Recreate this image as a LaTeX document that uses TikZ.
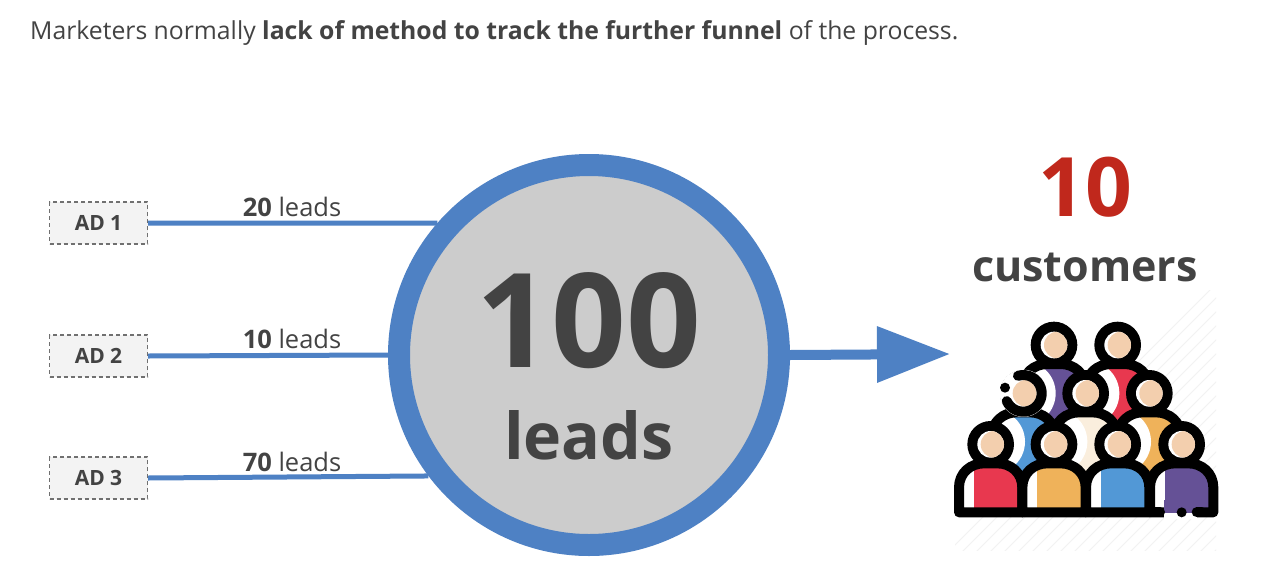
\documentclass[tikz,border=0pt]{standalone}
\usepackage{fontspec}
\setmainfont{Open Sans}
\usetikzlibrary{arrows.meta}
\definecolor{ink}{HTML}{434343}
\definecolor{ringblue}{HTML}{4E81C4}
\definecolor{hubgrey}{HTML}{CCCCCC}
\definecolor{adfill}{HTML}{F3F3F3}
\definecolor{adedge}{HTML}{707070}
\definecolor{redtxt}{HTML}{C0281C}
\definecolor{skin}{HTML}{F3CFAE}
\definecolor{pred}{HTML}{E8384F}
\definecolor{pyel}{HTML}{EFB25A}
\definecolor{pblu}{HTML}{5298D6}
\definecolor{ppur}{HTML}{655196}
\definecolor{pcre}{HTML}{FAEEDD}
\tikzset{
  adbox/.style={draw=adedge,fill=adfill,dash pattern=on 4pt off 3pt,line width=1.2pt,minimum width=98pt,minimum height=42pt,inner sep=0pt,text=ink,font=\fontsize{21}{24}\selectfont\bfseries},
  leadlabel/.style={text=ink,inner sep=0pt,font=\fontsize{25.5}{28}\selectfont},
  hubnode/.style={circle,draw=ringblue,fill=hubgrey,line width=22pt,minimum size=380pt,inner sep=0pt},
  feed/.style={draw=ringblue,line width=5pt},
  plain/.style={inner sep=0pt,text=ink}
}
% head: x, y
\newcommand{\headat}[2]{%
  \fill[black] (#1,#2) circle[radius=70];
  \fill[white] (#1,#2) circle[radius=40];
  \begin{scope}\clip (#1,#2) circle[radius=40];
    \fill[skin] (#1+10,#2) circle[radius=40];
  \end{scope}}
% body outline path: x, y, depth
\newcommand{\bodypath}[3]{(#1-95,#2+#3) -- (#1-95,#2+130) .. controls (#1-95,#2+85) and (#1-60,#2+57) .. (#1-20,#2+57) -- (#1+20,#2+57) .. controls (#1+60,#2+57) and (#1+95,#2+85) .. (#1+95,#2+130) -- (#1+95,#2+#3) -- cycle}
% front-row person
\newcommand{\frontperson}[3]{%
  \fill[white] \bodypath{#1}{#2}{204};
  \begin{scope}\clip \bodypath{#1}{#2}{204};
    \fill[#3] (#1-50,#2+60) rectangle (#1+95,#2+204);
  \end{scope}
  \draw[black,line width=10pt,line join=round] \bodypath{#1}{#2}{204};
  \headat{#1}{#2}}
% back-row person with crescent
\newcommand{\backperson}[3]{%
  \fill[white] \bodypath{#1}{#2}{310};
  \begin{scope}\clip \bodypath{#1}{#2}{310};
    \fill[#3] (#1-95,#2+50) rectangle (#1+95,#2+310);
    \fill[white] (#1-92,#2+145) circle[radius=97];
  \end{scope}
  \draw[black,line width=10pt,line join=round] \bodypath{#1}{#2}{310};
  \headat{#1}{#2}}
\begin{document}
\begin{tikzpicture}[x=1pt,y=-1pt]
\useasboundingbox (0,0) rectangle (1280,576);
\fill[white] (0,0) rectangle (1280,576);
% heading
\node[plain,anchor=west,font=\fontsize{24.75}{30}\selectfont] (head) at (30,33.5) {Marketers normally \textbf{lack of method to track the further funnel} of the process.};
% hub
\node[hubnode] (hub) at (589,355) {};
\node[plain,font=\fontsize{131}{132}\selectfont\bfseries] (hundred) at (589,321) {100};
\node[plain,font=\fontsize{64.5}{70}\selectfont\bfseries] (hublabel) at (589,435) {leads};
% ads
\node[adbox] (ad1) at (98.5,223) {AD 1};
\node[adbox] (ad2) at (98.5,356) {AD 2};
\node[adbox] (ad3) at (98.5,478) {AD 3};
\draw[feed] (ad1.east) -- (hub.139.5);
\draw[feed] (ad2.east) -- (hub.west);
\draw[feed] (ad3.east) -- (hub.217);
\node[leadlabel] (l1) at (292,207) {\textbf{20} leads};
\node[leadlabel] (l2) at (292,339) {\textbf{10} leads};
\node[leadlabel] (l3) at (292,462) {\textbf{70} leads};
% arrow
\coordinate (tip) at (950,354);
\draw[ringblue,line width=10pt,-{Triangle[length=73pt,width=54pt,sep=0pt]}] (hub.east) -- (tip);
% right labels
\node[plain,text=redtxt,font=\fontsize{82}{84}\selectfont\bfseries] (ten) at (1085,187) {10};
\node[plain,font=\fontsize{43}{48}\selectfont\bfseries] (cust) at (1085,267) {customers};
% hatched backdrop
\begin{scope}
  \clip (955,290) rectangle (1216,550);
  \foreach \k in {0,14,...,560}{
    \draw[black!5,line width=1pt] (940+\k,560) -- (940+\k+280,280);
  }
\end{scope}
% people
\begin{scope}[x=0.33333pt,y=-0.33333pt,shift={(940pt,-280pt)}]
  \backperson{342}{195}{ppur}
  \backperson{533}{195}{pred}
  \backperson{250}{340}{pblu}
  \backperson{437}{340}{pcre}
  \backperson{628}{340}{pyel}
  % broken ring on the left middle head
  \fill[white] (250,340) circle[radius=71];
  \begin{scope}\clip (250,340) circle[radius=40];
    \fill[skin] (258,340) circle[radius=40];
  \end{scope}
  \draw[black,line width=10pt,line cap=round] (250,340) ++(-107:55) arc[start angle=-107,end angle=155,radius=55];
  \fill[black] (195,323) circle[radius=15];
  \frontperson{152}{493}{pred}
  \frontperson{342}{493}{pyel}
  \frontperson{533}{493}{pblu}
  \frontperson{725}{493}{ppur}
  % break in the base line
  \fill[white] (672,680) rectangle (770,716);
  \fill[ppur] (672,660) rectangle (770,698);
  \draw[black,line width=10pt,line cap=round] (770,697) -- (785,697);
  \fill[black] (725,697) circle[radius=15];
  \draw[black,line width=10pt,line cap=round] (640,697) -- (660,697);
\end{scope}
\end{tikzpicture}
\end{document}
